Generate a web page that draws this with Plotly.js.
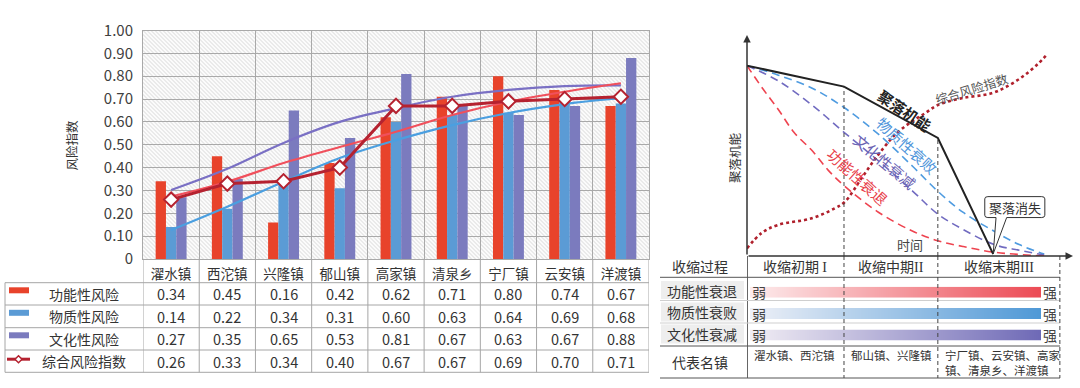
<!DOCTYPE html>
<html><head><meta charset="utf-8">
<script src="https://cdn.plot.ly/plotly-3.0.1.min.js"></script>
<style>html,body{margin:0;padding:0;background:#fff}#chart{width:1080px;height:388px}</style>
</head><body><div id="chart"></div>
<script>
// ---------------- left chart data ----------------
const towns = ['濯水镇','西沱镇','兴隆镇','郁山镇','高家镇','清泉乡','宁厂镇','云安镇','洋渡镇'];
const seriesNames = ['功能性风险','物质性风险','文化性风险','综合风险指数'];
const functionalRisk = [0.34,0.45,0.16,0.42,0.62,0.71,0.80,0.74,0.67];
const physicalRisk   = [0.14,0.22,0.34,0.31,0.60,0.63,0.64,0.69,0.68];
const culturalRisk   = [0.27,0.35,0.65,0.53,0.81,0.67,0.63,0.67,0.88];
const compositeIndex = [0.26,0.33,0.34,0.40,0.67,0.67,0.69,0.70,0.71];
const trendFunctional = [0.273,0.338,0.42,0.49,0.557,0.63,0.688,0.732,0.769];
const trendPhysical   = [0.127,0.229,0.338,0.442,0.52,0.586,0.639,0.678,0.705];
const trendCultural   = [0.302,0.395,0.508,0.60,0.66,0.71,0.74,0.757,0.76];
const yTickVals = [0,0.1,0.2,0.3,0.4,0.5,0.6,0.7,0.8,0.9,1.0];
const yTickText = ['0','0.10','0.20','0.30','0.40','0.50','0.60','0.70','0.80','0.90','1.00'];
const yTitle = '风险指数';

// ---------------- right diagram data ----------------
const settleT = [0,31,61,78.7];            const settleLevel = [100,89,62,1];
const physT = [0,10,21,31,42,53,61,69,79,87,95];
const physLevel = [100,95,88,78,64,47,34,23,13,6,1];
const cultT = [0,10,21,31,42,53,61,69,79,87,95];
const cultLevel = [100,92,79,65,50,34,22,14,6,3,0.5];
const funcT = [0,5,10,15,21,26,31,42,53,61,69,79,95];
const funcLevel = [100,88,77,65,55,45,37,23,13,8,5,2,0];
const riskT = [0,4.7,9.9,20.7,28.1,31.3,36.6,41.9,47.3,52.6,56.9,61,68.6,78.2,84,88.8,93,95.5];
const riskLevel = [4,12.1,16.3,19.8,25.1,28.5,40.8,53.1,63.6,70.6,75,79.3,82.9,85.5,89.9,95.1,100.9,105.1];
const stageBounds = [0,31,61,100];
const stageNames = ['收缩初期 <span style="font-family:Liberation Serif">I</span>','收缩中期<span style="font-family:Liberation Serif">II</span>','收缩末期<span style="font-family:Liberation Serif">III</span>'];
const processNames = ['功能性衰退','物质性衰败','文化性衰减'];
const representTowns = ['濯水镇、西沱镇','郁山镇、兴隆镇','宁厂镇、云安镇、高家<br>镇、清泉乡、洋渡镇'];
const diagramLabels = ['聚落机能','物质性衰败','文化性衰减','功能性衰退','综合风险指数','时间','聚落消失'];

// ---------------- styles ----------------
const FONT = 'Noto Sans CJK SC, Noto Sans, sans-serif';
const cRed = '#E8432B', cBlue = '#5B9BD5', cPurple = '#7B7BBE';
const cTrendRed = '#F0505C', cTrendBlue = '#4B9FE0', cTrendPurple = '#7A70C4';
const cComp = '#B52230';
const gridC = '#a9a9a9';
const W = 1080, H = 388;
const px = p => p / W, py = p => 1 - p / H;

const L = 143, R = 649, T = 30.5, B = 259;
const dL = 747, dR = 1073, dT = 35, dB = 256;
const tMax = 104.2, fMax = 116.1;

const hw = R - L, hh = B - T;
const svg = `<svg xmlns="http://www.w3.org/2000/svg" width="${hw}" height="${hh}"><defs><pattern id="p" width="4" height="4" patternUnits="userSpaceOnUse"><path d="M-1,3 l2,2 M0,0 l4,4 M3,-1 l2,2" stroke="#d6d6d6" stroke-width="0.9"/></pattern></defs><rect width="100%" height="100%" fill="#fbfbfb"/><rect width="100%" height="100%" fill="url(#p)"/></svg>`;
const hatchSrc = 'data:image/svg+xml;base64,' + btoa(svg);

const traces = [];
const barColors = [cRed, cBlue, cPurple];
[functionalRisk, physicalRisk, culturalRisk].forEach((vals, i) => {
  traces.push({type:'bar', x: towns, y: vals, name: seriesNames[i], marker:{color: barColors[i]}, xaxis:'x', yaxis:'y', hoverinfo:'skip'});
});
[[trendCultural,cTrendPurple],[trendFunctional,cTrendRed],[trendPhysical,cTrendBlue]].forEach(([vals,c]) => {
  traces.push({type:'scatter', mode:'lines', x: towns, y: vals, line:{color:c, width:2.2, shape:'spline', smoothing:1}, xaxis:'x', yaxis:'y', hoverinfo:'skip'});
});
traces.push({type:'scatter', mode:'lines+markers', x: towns, y: compositeIndex, name: seriesNames[3],
  line:{color:cComp, width:3}, marker:{symbol:'diamond', size:11, color:'#ffffff', line:{color:cComp, width:2}}, xaxis:'x', yaxis:'y', hoverinfo:'skip'});

traces.push({type:'scatter', mode:'lines', x: physT, y: physLevel, line:{color:'#4E9BE0', width:1.6, dash:'8px,5px', shape:'spline'}, xaxis:'x2', yaxis:'y2', hoverinfo:'skip'});
traces.push({type:'scatter', mode:'lines', x: cultT, y: cultLevel, line:{color:'#716BC0', width:1.6, dash:'8px,5px', shape:'spline'}, xaxis:'x2', yaxis:'y2', hoverinfo:'skip'});
traces.push({type:'scatter', mode:'lines', x: funcT, y: funcLevel, line:{color:'#EE4450', width:1.6, dash:'8px,5px', shape:'spline'}, xaxis:'x2', yaxis:'y2', hoverinfo:'skip'});
traces.push({type:'scatter', mode:'lines', x: riskT, y: riskLevel, line:{color:'#B0202C', width:2.6, dash:'3px,3px', shape:'spline'}, xaxis:'x2', yaxis:'y2', hoverinfo:'skip'});
traces.push({type:'scatter', mode:'lines', x: settleT, y: settleLevel, line:{color:'#222222', width:2}, xaxis:'x2', yaxis:'y2', hoverinfo:'skip'});

const gradScales = [
  [[0,'#fdeced'],[1,'#ec4a54']],
  [[0,'#eef0f7'],[1,'#4e98d6']],
  [[0,'#f1edf4'],[1,'#6e69b6']]
];
const gradYaxes = ['y3','y4','y5'];
gradScales.forEach((cs, i) => {
  traces.push({type:'heatmap', z:[[0,1],[0,1]], x:[0,1], y:[0,1], colorscale: cs, showscale:false, zsmooth:'best', xaxis:'x3', yaxis:gradYaxes[i], hoverinfo:'skip'});
});

// ---------------- shapes ----------------
const shapes = [];
const lineC = '#a6a6a6';
const hline = (x0, x1, y, color, width, extra={}) => Object.assign({type:'line', xref:'paper', yref:'paper', x0:px(x0), x1:px(x1), y0:py(y), y1:py(y), line:{color, width}, layer:'above'}, extra);
const rowLines = [282.7, 305, 327.7, 350, 372.3];
rowLines.forEach(y => shapes.push(hline(5, R, y, lineC, 1)));
shapes.push({type:'line', xref:'paper', yref:'paper', x0:px(5), x1:px(5), y0:py(282.7), y1:py(372.3), line:{color:lineC, width:1}, layer:'above'});
for (let i = 0; i <= towns.length; i++) {
  shapes.push({type:'line', xref:'x', yref:'paper', x0:i-0.5, x1:i-0.5, y0:py(B), y1:py(372.3), line:{color:lineC, width:1}, layer:'above'});
}
const rowCenters = [293.8, 316.3, 338.8, 361.2];
barColors.forEach((c, i) => {
  shapes.push({type:'rect', xref:'paper', yref:'paper', x0:px(9), x1:px(29), y0:py(rowCenters[i]-0.5), y1:py(rowCenters[i]-6.5), fillcolor:c, line:{width:0}});
});
const ly = rowCenters[3] - 2;
shapes.push(hline(7, 30, ly, cComp, 3));
shapes.push({type:'path', xref:'paper', yref:'paper',
  path:`M ${px(18.5)},${py(ly-3.5)} L ${px(22)},${py(ly)} L ${px(18.5)},${py(ly+3.5)} L ${px(15)},${py(ly)} Z`,
  fillcolor:'#ffffff', line:{color:cComp, width:1.5}});

const tL = 660, tR = 1060;
[[281,299],[302.5,321.5],[324.5,343.5]].forEach(([a,b]) => {
  shapes.push({type:'rect', xref:'paper', yref:'paper', x0:px(661), x1:px(744), y0:py(b), y1:py(a), fillcolor:'#eeeeee', line:{width:0}, layer:'below'});
});
shapes.push({type:'line', xref:'x2', yref:'paper', x0:0, x1:0, y0:py(dB), y1:py(378), line:{color:'#333', width:1.5}});
[[277.3,'#555'],[346,'#555'],[378,'#555'],[300.5,'#cfcfcf'],[323,'#cfcfcf']].forEach(([y,c]) => {
  shapes.push(hline(tL, tR, y, c, 1));
});
[1,2].forEach(k => {
  const t = stageBounds[k];
  shapes.push({type:'line', xref:'x2', yref:'y2', x0:t, x1:t, y0:0, y1:settleLevel[k], line:{color:'#444', width:1, dash:'4px,3px'}});
});
[1,2,3].forEach(k => {
  const t = stageBounds[k];
  shapes.push({type:'line', xref:'x2', yref:'paper', x0:t, x1:t, y0:py(dB), y1:py(378), line:{color:'#444', width:1, dash:'4px,3px'}});
});
shapes.push({type:'path', xref:'x2', yref:'y2',
  path:'M 77,31.2 L 94.2,31.2 Q 95.2,31.2 95.2,30 L 95.2,21.4 Q 95.2,20.2 94.2,20.2 L 83,20.2 L 78.7,1.2 L 79.6,20.2 L 77,20.2 Q 76,20.2 76,21.4 L 76,30 Q 76,31.2 77,31.2 Z',
  fillcolor:'#ffffff', line:{color:'#333', width:1}});

// ---------------- annotations ----------------
const ann = [];
const txt = (text, x, y, o={}) => Object.assign({text, x, y, xref:'paper', yref:'paper', xanchor:'center', yanchor:'middle', showarrow:false, font:{family:FONT, size:13.5, color:'#333'}}, o);
ann.push(txt(yTitle, px(70.5), py(145), {textangle:-90, font:{family:FONT, size:12.5, color:'#333'}}));
const tableVals = [functionalRisk, physicalRisk, culturalRisk, compositeIndex];
seriesNames.forEach((n, i) => {
  ann.push(txt(n, px(84), py(rowCenters[i]), {font:{family:FONT, size:14, color:'#333'}}));
  tableVals[i].forEach((v, j) => {
    ann.push(txt(v.toFixed(2), towns[j], py(rowCenters[i]), {xref:'x', font:{family:FONT, size:14.5, color:'#333'}}));
  });
});
ann.push({x:0, y:fMax, ax:0, ay:0, xref:'x2', yref:'y2', axref:'x2', ayref:'y2', text:'', showarrow:true, arrowhead:2, arrowsize:1, arrowwidth:1.5, arrowcolor:'#333'});
ann.push({x:tMax, y:0, ax:0, ay:0, xref:'x2', yref:'y2', axref:'x2', ayref:'y2', text:'', showarrow:true, arrowhead:2, arrowsize:1, arrowwidth:1.5, arrowcolor:'#333'});
const dtxt = (text, x, y, o={}) => Object.assign({text, x, y, xref:'x2', yref:'y2', xanchor:'center', yanchor:'middle', showarrow:false, font:{family:FONT, size:15, color:'#333'}}, o);
ann.push(dtxt('<b>'+diagramLabels[0]+'</b>', 50.5, 76.7, {textangle:34, font:{family:FONT, size:15, color:'#222'}}));
ann.push(dtxt(diagramLabels[1], 51.3, 58.3, {textangle:42, font:{family:FONT, size:15, color:'#4E94DA'}}));
ann.push(dtxt(diagramLabels[2], 44.1, 49.4, {textangle:40, font:{family:FONT, size:15, color:'#6A62B3'}}));
ann.push(dtxt(diagramLabels[3], 35.3, 41.7, {textangle:42, font:{family:FONT, size:15, color:'#E8404A'}}));
ann.push(dtxt(diagramLabels[4], 71.9, 87.8, {textangle:-17, font:{family:FONT, size:12.5, color:'#555'}}));
ann.push(dtxt(diagramLabels[5], 52.1, 5.8, {font:{family:FONT, size:13, color:'#444'}}));
ann.push(dtxt(diagramLabels[6], 85.6, 25.7, {font:{family:FONT, size:13, color:'#333'}}));
ann.push(txt(diagramLabels[0], px(734), py(158), {textangle:-90, font:{family:FONT, size:12.5, color:'#333'}}));
ann.push(txt('收缩过程', px(700), py(265.5), {font:{family:FONT, size:14, color:'#333'}}));
stageNames.forEach((s, k) => {
  const mid = (stageBounds[k] + stageBounds[k+1]) / 2;
  ann.push({text:s, x:mid, y:py(265.5), xref:'x2', yref:'paper', xanchor:'center', yanchor:'middle', showarrow:false, font:{family:FONT, size:14, color:'#333'}});
});
const barCenters = [292.2, 313.5, 335];
processNames.forEach((n, i) => {
  ann.push(txt(n, px(702), py(barCenters[i]-1.5), {font:{family:FONT, size:14, color:'#333'}}));
  ann.push(txt('弱', px(759), py(barCenters[i]), {font:{family:FONT, size:14, color:'#444'}}));
  ann.push(txt('强', px(1050), py(barCenters[i]), {font:{family:FONT, size:14, color:'#444'}}));
});
ann.push(txt('代表名镇', px(700), py(361.7), {font:{family:FONT, size:14, color:'#333'}}));
representTowns.forEach((s, k) => {
  ann.push({text:s, x:stageBounds[k]+1.6, y:py(344.5), xref:'x2', yref:'paper', xanchor:'left', yanchor:'top', align:'left', showarrow:false, font:{family:FONT, size:11.5, color:'#333'}});
});

const layout = {
  width: W, height: H, margin:{l:0, r:0, t:0, b:0},
  paper_bgcolor:'#ffffff', plot_bgcolor:'rgba(0,0,0,0)',
  showlegend:false, barmode:'group', bargap:0.45, bargroupgap:0,
  font:{family:FONT, color:'#333'},
  xaxis:{domain:[px(L), px(R)], type:'category', range:[-0.5, 8.5], tickson:'boundaries', showgrid:true, gridcolor:gridC, gridwidth:1,
    ticks:'', showline:true, mirror:true, linecolor:gridC, linewidth:1, tickfont:{family:FONT, size:13.5, color:'#333'}, ticklabelstandoff:3, fixedrange:true},
  yaxis:{domain:[py(B), py(T)], range:[0,1], tickvals:yTickVals, ticktext:yTickText, showgrid:true, gridcolor:gridC, gridwidth:1,
    ticks:'', showline:true, mirror:true, linecolor:gridC, linewidth:1, zeroline:false, tickfont:{family:FONT, size:15, color:'#404040'}, ticklabelstandoff:6, fixedrange:true},
  xaxis2:{domain:[px(dL), px(dR)], range:[0, tMax], anchor:'y2', visible:false, fixedrange:true},
  yaxis2:{domain:[py(dB), py(dT)], range:[0, fMax], anchor:'x2', visible:false, fixedrange:true},
  xaxis3:{domain:[px(750), px(1041)], range:[0,1], anchor:'y3', visible:false, fixedrange:true},
  yaxis3:{domain:[py(297.7), py(286.7)], range:[0,1], anchor:'x3', visible:false, fixedrange:true},
  yaxis4:{domain:[py(319), py(308)], range:[0,1], anchor:'x3', visible:false, fixedrange:true},
  yaxis5:{domain:[py(340.5), py(329.5)], range:[0,1], anchor:'x3', visible:false, fixedrange:true},
  images:[{source:hatchSrc, xref:'paper', yref:'paper', x:px(L), y:py(T), sizex:px(R)-px(L), sizey:py(T)-py(B), xanchor:'left', yanchor:'top', sizing:'stretch', layer:'below'}],
  shapes, annotations: ann
};
Plotly.newPlot('chart', traces, layout, {staticPlot:true, displayModeBar:false});
</script></body></html>
